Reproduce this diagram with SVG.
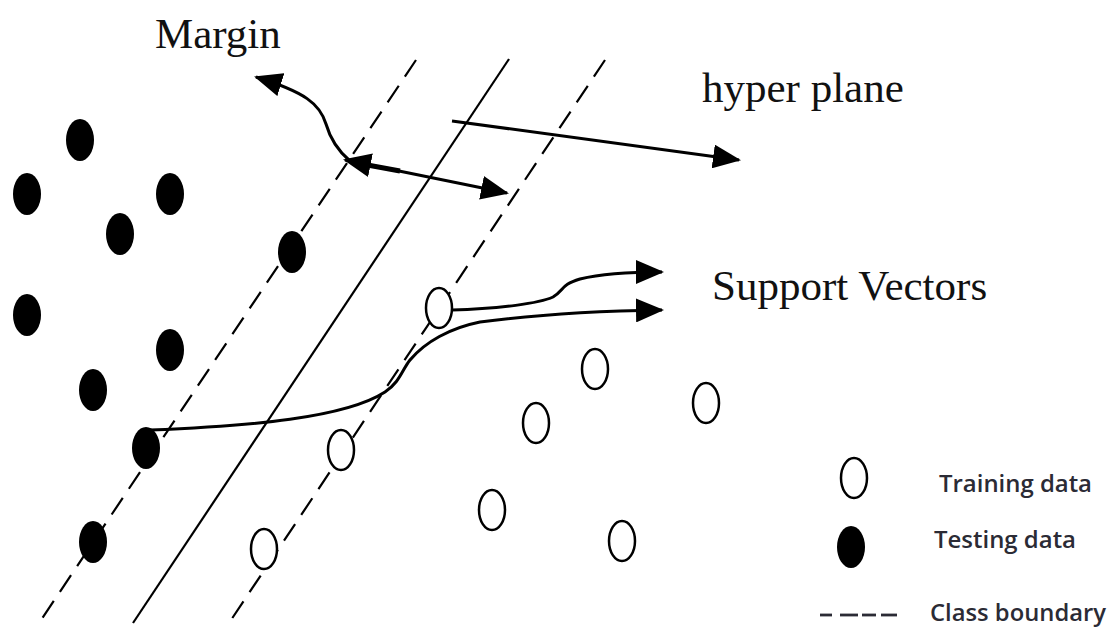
<svg xmlns="http://www.w3.org/2000/svg" width="1110" height="628" viewBox="0 0 1110 628">
<style>
.dash{stroke:#000;stroke-width:2.2;stroke-dasharray:20 11;fill:none}
.solid{stroke:#000;stroke-width:2.2;fill:none}
.test{fill:#000}
.train{fill:#fff;stroke:#000;stroke-width:2.5}
.arr{stroke:#000;stroke-width:3;fill:none}
.serif{font-family:"Liberation Serif","Times New Roman",serif;font-size:43px;fill:#111}
.sans{font-family:"Open Sans","Liberation Sans",sans-serif;font-size:23px;font-weight:600;fill:#2b2b35}
.ldash{stroke:#2b2b35;stroke-width:2.8}
</style>
<defs>
<marker id="ah" markerUnits="userSpaceOnUse" markerWidth="28" markerHeight="24" refX="26" refY="12" orient="auto-start-reverse" viewBox="0 0 28 24">
<path d="M0,0 L28,12 L0,24 z" fill="#000"/>
</marker>
</defs>
<rect width="1110" height="628" fill="#fff"/>
<g id="boundaries">
<line class="dash" x1="416" y1="60" x2="39" y2="623"/>
<line class="solid" x1="509" y1="59" x2="133" y2="623"/>
<line class="dash" x1="605" y1="60" x2="229" y2="623"/>
</g>
<g id="testing-points">
<ellipse class="test" cx="80" cy="140" rx="14" ry="21"/>
<ellipse class="test" cx="27" cy="194" rx="14" ry="21"/>
<ellipse class="test" cx="170" cy="194" rx="14" ry="21"/>
<ellipse class="test" cx="120" cy="234" rx="14" ry="21"/>
<ellipse class="test" cx="292" cy="252" rx="14" ry="21"/>
<ellipse class="test" cx="27" cy="315" rx="14" ry="21"/>
<ellipse class="test" cx="170" cy="350" rx="14" ry="21"/>
<ellipse class="test" cx="93" cy="390" rx="14" ry="21"/>
<ellipse class="test" cx="146" cy="448" rx="14" ry="21"/>
<ellipse class="test" cx="93" cy="542" rx="14" ry="21"/>
</g>
<g id="training-points">
<ellipse class="train" cx="439" cy="308" rx="13" ry="20"/>
<ellipse class="train" cx="341" cy="450" rx="13" ry="20"/>
<ellipse class="train" cx="264" cy="549" rx="13" ry="20"/>
<ellipse class="train" cx="536" cy="423" rx="13" ry="20"/>
<ellipse class="train" cx="492" cy="510" rx="13" ry="20"/>
<ellipse class="train" cx="595" cy="369" rx="13" ry="20"/>
<ellipse class="train" cx="706" cy="403" rx="13" ry="20"/>
<ellipse class="train" cx="622" cy="541" rx="13" ry="20"/>
</g>
<g id="connectors">
<path class="arr" d="M350 161 C337 150 330 138 326 124 C320 104 305 92 256 77" marker-end="url(#ah)"/>
<line class="arr" x1="345" y1="160" x2="507" y2="193" marker-start="url(#ah)" marker-end="url(#ah)"/>
<line x1="362" y1="164" x2="400" y2="171" stroke="#000" stroke-width="5"/>
<line class="arr" x1="452" y1="121" x2="739" y2="160" marker-end="url(#ah)"/>
<path class="arr" d="M452 310 C500 309 540 303 553 297 C565 290 560 285 580 279 C600 274 625 272 662 272" marker-end="url(#ah)"/>
<path class="arr" d="M150 430 C250 426 345 418 385 392 C400 382 402 370 410 360 C425 342 450 328 480 322 C540 314 600 311 662 310" marker-end="url(#ah)"/>
</g>
<g id="labels">
<text class="serif" x="155" y="48">Margin</text>
<text class="serif" x="702" y="102">hyper plane</text>
<text class="serif" x="712" y="300">Support Vectors</text>
</g>
<g id="legend">
<ellipse class="train" cx="854" cy="478" rx="13" ry="20"/>
<ellipse class="test" cx="851" cy="547" rx="14" ry="21"/>
<line class="ldash" x1="820" y1="615" x2="832" y2="615"/>
<line class="ldash" x1="840" y1="615" x2="858" y2="615"/>
<line class="ldash" x1="862" y1="615" x2="876" y2="615"/>
<line class="ldash" x1="881" y1="615" x2="897" y2="615"/>
<text class="sans" x="939" y="492" textLength="153" lengthAdjust="spacingAndGlyphs">Training data</text>
<text class="sans" x="934" y="548" textLength="142" lengthAdjust="spacingAndGlyphs">Testing data</text>
<text class="sans" x="930" y="621" textLength="176" lengthAdjust="spacingAndGlyphs">Class boundary</text>
</g>
</svg>
